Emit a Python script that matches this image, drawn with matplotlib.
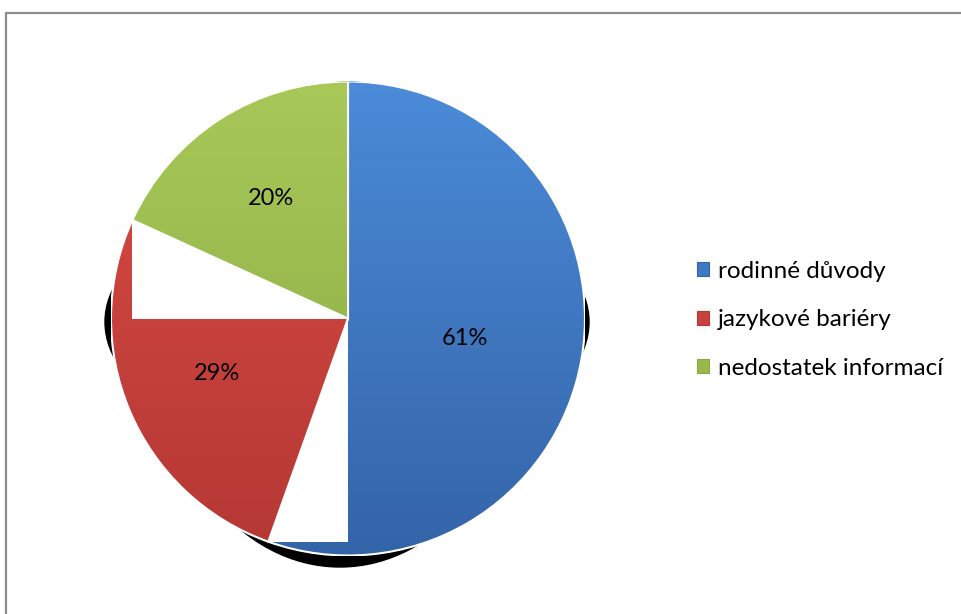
import matplotlib.pyplot as plt
import numpy as np
from matplotlib.patches import Ellipse, Rectangle, Wedge
from matplotlib.colors import LinearSegmentedColormap

# data
duvody = ['rodinné důvody', 'jazykové bariéry', 'nedostatek informací']
podily = [61, 29, 20]
popisky = ['61%', '29%', '20%']

# colours (flat fill + light/dark ends of the bevel gradient)
barvy = ['#3f78c3', '#c8423e', '#98b84c']
barvy_horni = ['#4b8bd8', '#d94b45', '#a8c958']
barvy_dolni = ['#3464a8', '#b53834', '#89a744']
vzdalenost = [0.5, 0.6, 0.6]

plt.rcParams['font.family'] = ['Lato', 'DejaVu Sans']

W, H = 962, 614
R = 237.0
fig = plt.figure(figsize=(W / 100, H / 100), dpi=100)
ax = fig.add_axes([111 / W, 58.5 / H, 2 * R / W, 2 * R / H])

wedges, _ = ax.pie(podily, colors=barvy, startangle=90, counterclock=False,
                   radius=1, wedgeprops=dict(linewidth=0))

# drop shadow behind the pie
ax.add_patch(Ellipse((-1 / R, -3.5 / R), 2 * 242 / R, 2 * 130 / R,
                     color='black', zorder=0.5, clip_on=False))
ax.add_patch(Ellipse((-8 / R, -15 / R), 2 * 183 / R, 2 * 233.5 / R,
                     color='black', zorder=0.5, clip_on=False))

# stacking: blue, lower gap, red, upper gap, green
poradi = [1, 3, 5]
grad = np.linspace(1, 0, 256).reshape(-1, 1)
for w, top, bot, z in zip(wedges, barvy_horni, barvy_dolni, poradi):
    w.set_zorder(z)
    cmap = LinearSegmentedColormap.from_list('g', [bot, top])
    im = ax.imshow(grad, cmap=cmap, extent=(-1, 1, -1, 1), aspect='auto',
                   origin='upper', zorder=z + 0.1)
    im.set_clip_path(w)
    ax.add_patch(Wedge(w.center, w.r, w.theta1, w.theta2, fill=False,
                       edgecolor='white', linewidth=1.5, zorder=z + 0.2))

# white gaps left around the red slice
red = wedges[1]
konce = sorted([red.theta1, red.theta2],
               key=lambda t: np.sin(np.deg2rad(t)))
x_lo, y_lo = np.cos(np.deg2rad(konce[0])), np.sin(np.deg2rad(konce[0]))
x_hi, y_hi = np.cos(np.deg2rad(konce[1])), np.sin(np.deg2rad(konce[1]))
ax.add_patch(Rectangle((x_lo, y_lo), -x_lo, -y_lo, facecolor='white',
                       edgecolor='none', zorder=2))
ax.add_patch(Rectangle((x_hi, 0), -x_hi, y_hi, facecolor='white',
                       edgecolor='none', zorder=4))

for w, txt, d in zip(wedges, popisky, vzdalenost):
    mid = np.deg2rad((w.theta1 + w.theta2) / 2)
    ax.text(d * np.cos(mid), d * np.sin(mid), txt, ha='center', va='center',
            fontsize=17, color='black', zorder=10)

ax.set_xlim(-1, 1)
ax.set_ylim(-1, 1)
ax.axis('off')

handles = [Rectangle((0, 0), 1, 1, facecolor=c, edgecolor=e, linewidth=0.8)
           for c, e in zip(barvy, barvy_dolni)]
fig.legend(handles, duvody, loc='center left',
           bbox_to_anchor=(675 / W, 1 - 320 / H), frameon=False,
           fontsize=17.5, handlelength=0.5, handleheight=0.5,
           handletextpad=0.37, labelspacing=1.13)

# chart area border
fig.add_artist(Rectangle((5.5 / W, -0.5), 2, 1.5 - 13.5 / H, fill=False,
                         edgecolor='#8c8c8c', linewidth=1.6,
                         transform=fig.transFigure))

fig.savefig('out.png', dpi=100)
